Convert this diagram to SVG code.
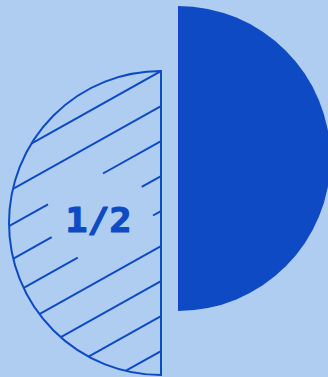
<svg xmlns="http://www.w3.org/2000/svg" width="328" height="377" viewBox="0 0 328 377">
  <style>
    .ln { stroke: #0d4ac4; stroke-width: 2; fill: none; stroke-linecap: butt; }
    .lbl { font-family: "DejaVu Sans Mono", "Liberation Mono", monospace; font-weight: bold; font-size: 34px; fill: #0d4ac4; stroke: #0d4ac4; stroke-width: 1.2px; stroke-linejoin: round; }
  </style>
  <defs>
    <clipPath id="half">
      <path d="M161,71 A152,152 0 0 0 161,375 Z"/>
    </clipPath>
  </defs>
  <rect width="328" height="377" fill="#aecdf1"/>
  <g id="right-half">
    <path d="M178,6 A152.5,152.5 0 0 1 178,311 Z" fill="#0d4ac4"/>
  </g>
  <g id="left-half">
    <g clip-path="url(#half)" class="ln">
      <line x1="161" y1="71" x2="0" y2="161.2"/>
      <line x1="161" y1="106" x2="0" y2="196.2"/>
      <line x1="161" y1="141" x2="103" y2="173.5"/>
      <line x1="48" y1="204.3" x2="0" y2="231.2"/>
      <line x1="161" y1="176" x2="141.7" y2="186.8"/>
      <line x1="51.7" y1="237.2" x2="0" y2="266.2"/>
      <line x1="161" y1="211" x2="153" y2="215.5"/>
      <line x1="77.7" y1="257.6" x2="0" y2="301.2"/>
      <line x1="161" y1="246" x2="0" y2="336.2"/>
      <line x1="161" y1="281" x2="0" y2="371.2"/>
      <line x1="161" y1="316" x2="0" y2="406.2"/>
      <line x1="161" y1="351" x2="0" y2="441.2"/>
    </g>
    <path class="ln" d="M161,71 A152,152 0 0 0 161,375 Z"/>
    <text class="lbl" x="65.5" y="232" textLength="66" lengthAdjust="spacingAndGlyphs">1/2</text>
  </g>
</svg>
